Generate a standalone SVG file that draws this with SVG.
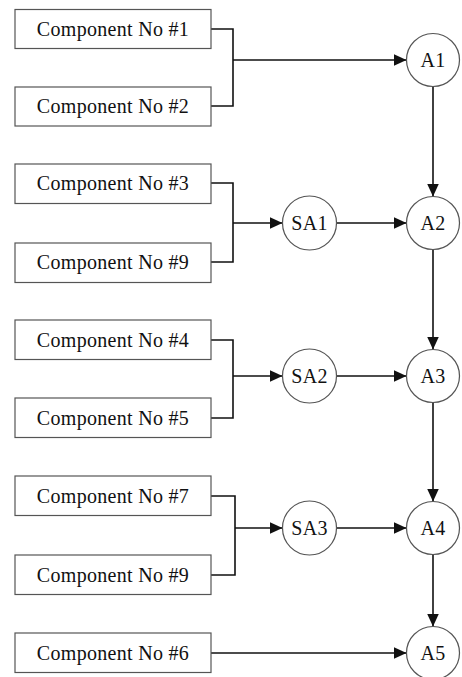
<svg xmlns="http://www.w3.org/2000/svg" width="462" height="677" viewBox="0 0 462 677">
<style>
.box{fill:#fff;stroke:#555;stroke-width:1.2}
.circ{fill:#fff;stroke:#555;stroke-width:1.2}
.lbl{font-family:'Liberation Serif','Times New Roman','DejaVu Serif',serif;font-size:20px;fill:#111;text-anchor:middle;letter-spacing:0.3px}
.ln{fill:none;stroke:#111;stroke-width:1.6}
.ar{fill:none;stroke:#111;stroke-width:1.6;marker-end:url(#ah)}
</style>
<defs>
<marker id="ah" markerUnits="userSpaceOnUse" markerWidth="13" markerHeight="12" refX="13" refY="6" orient="auto">
<path d="M0,0 L13,6 L0,12 z" fill="#111"/>
</marker>
</defs>
<rect width="462" height="677" fill="#fff"/>
<g id="connectors">
<path class="ln" d="M211,29 H233 V106 H211"/>
<path class="ar" d="M233,60 H406.5"/>
<path class="ln" d="M211,183 H233 V262 H211"/>
<path class="ar" d="M233,223 H282.5"/>
<path class="ar" d="M336.5,223 H406.5"/>
<path class="ln" d="M211,340 H233 V418 H211"/>
<path class="ar" d="M233,376 H282.5"/>
<path class="ar" d="M336.5,376 H406.5"/>
<path class="ln" d="M211,496 H235 V575 H211"/>
<path class="ar" d="M235,528 H282.5"/>
<path class="ar" d="M336.5,528 H406.5"/>
<path class="ar" d="M211,653 H406.5"/>
<path class="ar" d="M433,86.5 V196.5"/>
<path class="ar" d="M433,249.5 V349.5"/>
<path class="ar" d="M433,402.5 V501.5"/>
<path class="ar" d="M433,554.5 V626.5"/>
</g>
<g id="c1"><rect class="box" x="15" y="9.5" width="196" height="39"/><text class="lbl" x="113" y="35.5" font-family="Liberation Serif, serif">Component No #1</text></g>
<g id="c2"><rect class="box" x="15" y="87" width="196" height="39"/><text class="lbl" x="113" y="113">Component No #2</text></g>
<g id="c3"><rect class="box" x="15" y="164" width="196" height="39.5"/><text class="lbl" x="113" y="190">Component No #3</text></g>
<g id="c9a"><rect class="box" x="15" y="243" width="196" height="39.5"/><text class="lbl" x="113" y="269">Component No #9</text></g>
<g id="c4"><rect class="box" x="15" y="320" width="196" height="39.5"/><text class="lbl" x="113" y="346.5">Component No #4</text></g>
<g id="c5"><rect class="box" x="15" y="398" width="196" height="39.5"/><text class="lbl" x="113" y="424.5">Component No #5</text></g>
<g id="c7"><rect class="box" x="15" y="476" width="196" height="39.5"/><text class="lbl" x="113" y="502.5">Component No #7</text></g>
<g id="c9b"><rect class="box" x="15" y="555" width="196" height="39.5"/><text class="lbl" x="113" y="581.5">Component No #9</text></g>
<g id="c6"><rect class="box" x="15" y="633" width="196" height="39.5"/><text class="lbl" x="113" y="659.5">Component No #6</text></g>
<g id="SA1"><circle class="circ" cx="309.5" cy="223" r="27"/><text class="lbl" x="309.5" y="229.5">SA1</text></g>
<g id="SA2"><circle class="circ" cx="309.5" cy="376" r="27"/><text class="lbl" x="309.5" y="382.5">SA2</text></g>
<g id="SA3"><circle class="circ" cx="309.5" cy="528" r="27"/><text class="lbl" x="309.5" y="534.5">SA3</text></g>
<g id="A1"><circle class="circ" cx="433" cy="60" r="26.5"/><text class="lbl" x="433" y="66.5">A1</text></g>
<g id="A2"><circle class="circ" cx="433" cy="223" r="26.5"/><text class="lbl" x="433" y="229.5">A2</text></g>
<g id="A3"><circle class="circ" cx="433" cy="376" r="26.5"/><text class="lbl" x="433" y="382.5">A3</text></g>
<g id="A4"><circle class="circ" cx="433" cy="528" r="26.5"/><text class="lbl" x="433" y="534.5">A4</text></g>
<g id="A5"><circle class="circ" cx="433" cy="653" r="26.5"/><text class="lbl" x="433" y="659.5">A5</text></g>
</svg>
